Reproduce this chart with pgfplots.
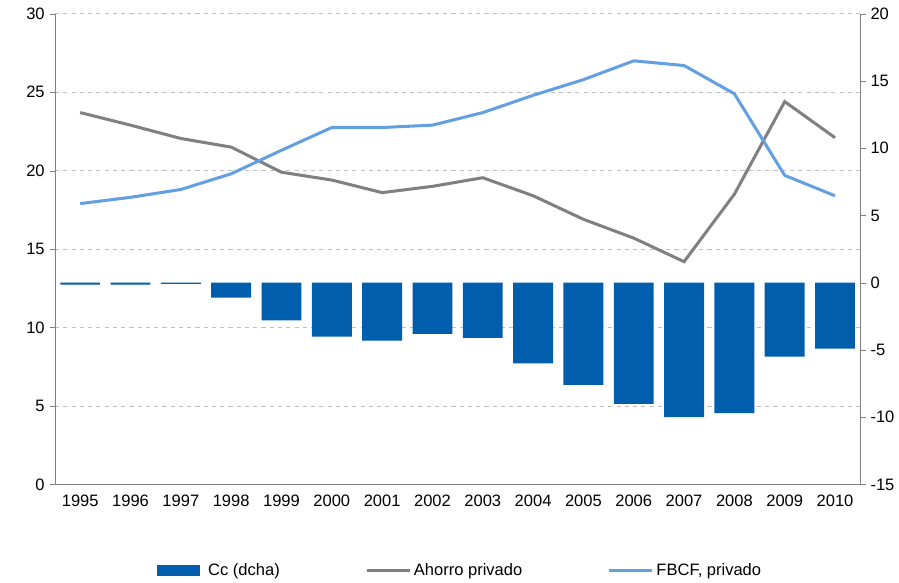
\documentclass[border=0pt]{standalone}
\usepackage{pgfplots}
\pgfplotsset{compat=1.18}
\usepackage{fontspec}
\setmainfont{Liberation Sans}
\definecolor{barb}{RGB}{0,94,172}
\definecolor{lgray}{RGB}{128,128,128}
\definecolor{lblue}{RGB}{100,160,225}
\begin{document}
\begin{tikzpicture}
\pgfplotsset{every axis/.style={scale only axis, width=585pt, height=342pt, xmin=-0.5, xmax=15.5,
 /pgf/number format/assume math mode=true, tick label style={font=\fontsize{12}{13}\selectfont},
 major tick length=4pt, tick align=outside}}
\begin{axis}[name=main, axis y line*=left, axis x line*=bottom, ymin=0, ymax=30, ytick={0,5,...,30},
 axis line style={lgray}, tick style={lgray},
 ymajorgrids, grid style={dashed, lgray!50},
 xtick={0,...,15}, xticklabels={1995,1996,1997,1998,1999,2000,2001,2002,2003,2004,2005,2006,2007,2008,2009,2010},
 extra x ticks={-0.5,0.5,...,15.5}, extra x tick labels={}, extra x tick style={grid=none, major tick length=5pt},
 major x tick style={draw=none}]
\end{axis}
\begin{axis}[axis y line*=right, axis x line=none, ymin=-15, ymax=20, ytick={-15,-10,...,20},
 y axis line style={lgray}, ytick style={lgray}]
\addplot[ybar, bar width=29pt, fill=barb, draw=none] coordinates {
(0,-0.15)(1,-0.15)(2,-0.08)(3,-1.1)(4,-2.8)(5,-4.0)(6,-4.3)(7,-3.8)(8,-4.1)(9,-6.0)(10,-7.6)(11,-9.0)(12,-10.0)(13,-9.7)(14,-5.5)(15,-4.9)};
\end{axis}
\begin{axis}[hide axis, ymin=0, ymax=30,
 legend style={at={(0.5,-0.155)}, anchor=north, draw=none, font=\fontsize{12}{13}\selectfont, legend columns=3,
  /tikz/every even column/.append style={column sep=60pt}},
 legend image code/.code={\draw[#1] (0cm,0cm) -- (1.1cm,0cm);}]
\addlegendimage{barb, line width=8pt}
\addlegendentry{Cc (dcha)}
\addplot[lgray, line width=2.2pt] coordinates {
(0,23.7)(1,22.9)(2,22.05)(3,21.5)(4,19.9)(5,19.4)(6,18.6)(7,19.0)(8,19.55)(9,18.4)(10,16.9)(11,15.7)(12,14.2)(13,18.5)(14,24.4)(15,22.1)};
\addlegendentry{Ahorro privado}
\addplot[lblue, line width=2.2pt] coordinates {
(0,17.9)(1,18.3)(2,18.8)(3,19.8)(4,21.3)(5,22.75)(6,22.75)(7,22.9)(8,23.7)(9,24.8)(10,25.8)(11,27.0)(12,26.7)(13,24.9)(14,19.7)(15,18.4)};
\addlegendentry{FBCF, privado}
\end{axis}
\path (main.south west) ++(-40pt,0) coordinate (lm);
\path (lm) -- (main.south west);
\path (main.north west) ++(0,10pt) coordinate (tm);
\path (tm) -- (main.north west);
\end{tikzpicture}
\end{document}
